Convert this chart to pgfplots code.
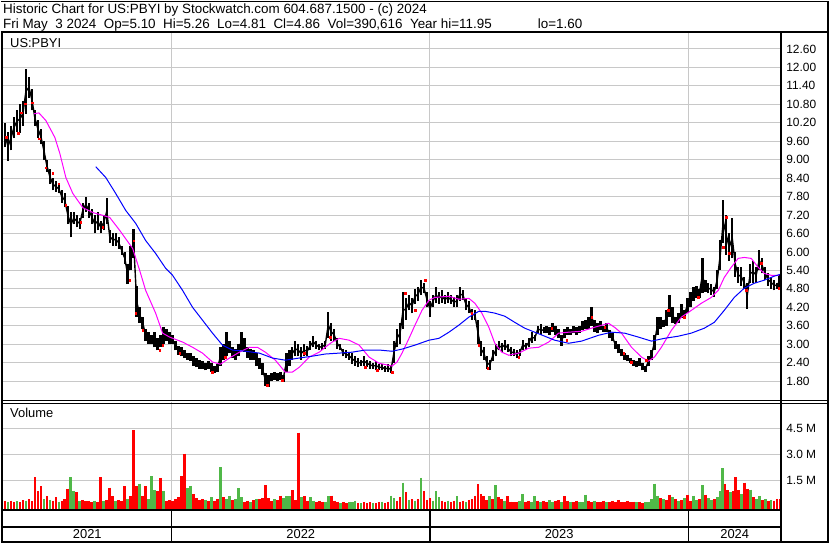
\documentclass[border=0pt]{standalone}
\usepackage{pgfplots}
\pgfplotsset{compat=1.18}
\usepackage{pgfplotstable}
\usepackage{fontspec}
\setmainfont{Liberation Sans}

\definecolor{gridgray}{RGB}{200,200,200}
\definecolor{volred}{RGB}{255,0,0}
\definecolor{volgreen}{RGB}{80,184,72}
\definecolor{mamag}{RGB}{255,0,255}
\definecolor{mablue}{RGB}{0,0,255}

% daily bars, sampled: trading-day position, high, low
\pgfplotstableread{
x h l
2 10.2 9.4
5 9.9 8.97
8 10.1 9.3
11 10.4 9.7
14 10.6 9.9
17 10.8 9.85
20 10.9 10.1
23 11.95 10.5
26 11.7 11.0
29 11.3 10.6
32 10.6 10.1
35 10.3 9.7
38 10.0 9.5
41 9.6 9.0
44 9.0 8.6
47 8.7 8.2
50 8.4 8.0
53 8.3 7.95
56 8.2 7.9
59 8.0 7.6
62 7.9 7.45
65 7.5 6.9
68 7.3 6.47
71 7.3 6.9
74 7.2 6.8
77 7.1 6.75
80 7.6 7.1
83 7.8 7.3
86 7.6 7.1
89 7.4 6.9
92 7.2 6.6
95 7.3 6.7
98 7.0 6.6
101 7.2 6.7
104 7.74 6.9
107 6.7 6.3
110 6.6 6.2
113 6.6 6.2
116 6.5 6.1
119 6.2 5.9
122 6.0 5.6
125 5.6 4.95
128 6.2 5.4
131 6.75 5.8
134 4.9 3.9
137 4.2 3.7
140 3.9 3.5
143 3.5 3.1
146 3.4 3.0
149 3.3 3.0
152 3.4 2.9
155 3.2 2.8
158 3.3 2.9
161 3.55 3.0
164 3.5 3.1
167 3.4 3.0
170 3.3 3.0
173 3.1 2.8
176 2.95 2.65
179 2.9 2.6
182 2.8 2.55
185 2.7 2.5
188 2.7 2.45
191 2.6 2.3
194 2.55 2.25
197 2.5 2.2
200 2.45 2.2
203 2.4 2.15
206 2.45 2.2
209 2.4 2.1
212 2.3 2.05
215 2.35 2.1
218 2.9 2.3
221 3.0 2.5
224 3.4 2.6
227 3.1 2.7
230 2.9 2.55
233 2.85 2.5
236 3.0 2.6
239 3.4 2.8
242 3.2 2.75
245 2.9 2.55
248 2.85 2.5
251 2.8 2.5
254 2.7 2.3
257 2.55 2.2
260 2.4 2.0
263 2.05 1.65
266 2.0 1.6
269 2.06 1.8
272 2.1 1.85
275 2.05 1.8
278 2.1 1.85
281 2.0 1.78
284 2.7 2.1
287 2.8 2.3
290 2.9 2.5
293 3.1 2.6
296 3.0 2.6
299 2.9 2.5
302 3.0 2.6
305 2.95 2.6
308 3.1 2.8
311 3.25 2.9
314 3.1 2.85
317 3.0 2.8
320 3.05 2.8
323 3.1 2.85
326 4.05 3.2
329 3.7 3.1
332 3.5 3.1
335 3.2 2.85
338 3.0 2.8
341 2.85 2.6
344 2.8 2.55
347 2.75 2.5
350 2.7 2.35
353 2.6 2.3
356 2.55 2.25
359 2.5 2.3
362 2.6 2.3
365 2.5 2.25
368 2.45 2.2
371 2.4 2.2
374 2.45 2.15
377 2.35 2.15
380 2.35 2.15
383 2.3 2.1
386 2.35 2.1
389 2.3 2.05
392 3.1 2.4
395 3.5 2.9
398 3.7 3.0
401 4.7 3.5
404 4.5 3.8
407 4.6 4.1
410 4.5 4.0
413 4.8 4.3
416 4.85 4.4
419 5.1 4.6
422 5.0 4.65
425 4.7 4.2
428 4.4 3.9
431 4.6 4.2
434 4.85 4.35
437 4.7 4.3
440 4.75 4.35
443 4.6 4.3
446 4.7 4.35
449 4.6 4.3
452 4.55 4.2
455 4.6 4.2
458 4.85 4.4
461 4.75 4.45
464 4.5 4.1
467 4.4 4.0
470 4.15 3.8
473 4.1 3.8
476 3.8 3.0
479 3.1 2.6
482 2.9 2.5
485 2.6 2.2
488 2.5 2.16
491 2.8 2.45
494 3.0 2.6
497 3.1 2.8
500 3.05 2.75
503 3.15 2.8
506 3.0 2.75
509 2.9 2.6
512 2.85 2.6
515 2.8 2.55
518 2.85 2.6
521 3.15 2.8
524 3.05 2.8
527 3.2 2.9
530 3.4 3.05
533 3.3 3.1
536 3.6 3.35
539 3.65 3.3
542 3.55 3.35
545 3.6 3.35
548 3.55 3.3
551 3.7 3.4
554 3.6 3.3
557 3.5 3.2
560 3.3 2.95
563 3.5 3.2
566 3.55 3.3
569 3.5 3.3
572 3.6 3.35
575 3.55 3.3
578 3.6 3.35
581 3.75 3.45
584 3.8 3.5
587 3.9 3.5
590 4.2 3.6
593 3.8 3.4
596 3.7 3.35
599 3.75 3.45
602 3.6 3.4
605 3.7 3.4
608 3.45 3.2
611 3.35 3.1
614 3.1 2.85
617 3.0 2.7
620 2.85 2.6
623 2.7 2.5
626 2.65 2.45
629 2.55 2.4
632 2.5 2.3
635 2.45 2.25
638 2.55 2.3
641 2.4 2.15
644 2.3 2.09
647 2.6 2.3
650 2.8 2.5
653 3.3 2.8
656 3.9 3.3
659 3.9 3.5
662 3.8 3.55
665 4.1 3.6
668 4.6 3.9
671 4.2 3.7
674 3.9 3.65
677 4.0 3.7
680 4.3 3.85
683 4.1 3.85
686 4.5 4.0
689 4.7 4.2
692 4.85 4.4
695 4.9 4.5
698 4.8 4.5
701 5.8 4.65
704 5.1 4.7
707 5.0 4.65
710 4.95 4.6
713 4.85 4.55
716 5.4 4.8
719 6.4 5.4
722 7.7 6.3
725 7.2 5.9
728 6.6 5.7
731 7.1 5.8
734 6.0 5.2
737 5.5 5.0
740 5.5 4.9
743 5.2 4.8
746 5.0 4.15
749 5.6 5.0
752 5.7 5.0
755 5.5 5.0
758 6.05 5.4
761 5.8 5.3
764 5.5 5.1
767 5.3 4.9
770 5.2 4.8
773 5.1 4.75
776 5.0 4.8
778 5.26 4.81
}\pricetab

% short moving average
\pgfplotstableread{
x m
31 10.49
36 10.52
43 10.27
52 9.72
57 9.20
63 8.42
70 7.90
80 7.44
90 7.28
100 7.19
107 7.12
117 6.70
130 6.11
137 5.40
143 4.75
153 4.01
160 3.36
167 3.23
180 3.07
190 2.90
200 2.71
210 2.42
218 2.35
227 2.55
237 2.74
247 2.90
255 2.90
263 2.74
273 2.48
283 2.09
290 2.09
297 2.25
307 2.58
317 2.74
323 2.90
330 3.07
337 3.19
347 3.13
357 2.97
367 2.58
377 2.38
390 2.29
395 2.42
400 2.71
407 3.19
413 3.62
420 4.10
427 4.43
433 4.52
447 4.56
457 4.46
467 4.49
473 4.33
480 4.01
487 3.55
493 3.03
500 2.74
507 2.64
517 2.71
527 2.87
537 2.90
547 3.07
557 3.36
567 3.39
580 3.42
593 3.55
607 3.68
613 3.55
620 3.36
630 2.90
640 2.58
647 2.45
653 2.58
660 2.90
670 3.45
680 3.88
690 4.10
700 4.33
710 4.52
717 4.75
723 5.17
730 5.50
737 5.79
743 5.82
750 5.79
757 5.50
763 5.30
770 5.24
778 5.24
}\maShort

% long moving average
\pgfplotstableread{
x m
93 8.77
103 8.42
113 7.90
123 7.35
133 6.93
143 6.37
153 5.95
163 5.47
170 5.24
180 4.75
190 4.20
200 3.78
210 3.36
220 2.97
230 2.81
243 2.77
257 2.71
270 2.55
283 2.48
297 2.55
310 2.61
323 2.68
337 2.71
350 2.74
363 2.81
377 2.81
390 2.77
400 2.84
413 2.97
427 3.13
437 3.19
447 3.39
457 3.62
467 3.88
477 4.07
483 4.07
493 4.01
503 3.91
513 3.71
523 3.52
533 3.39
543 3.26
553 3.13
567 3.03
580 3.10
597 3.29
610 3.39
623 3.36
637 3.23
650 3.10
663 3.19
677 3.26
690 3.36
703 3.52
713 3.71
723 4.10
733 4.52
743 4.82
753 4.98
763 5.08
773 5.21
779 5.27
}\maLong

% volume in millions, down days
\pgfplotstableread{
x v
2 .30
8 .30
11 .22
17 .20
20 .33
26 .38
29 .28
32 1.67
35 .88
38 1.13
44 .55
50 .30
53 .50
59 .30
62 .40
65 1.00
74 .80
80 .35
83 .28
86 .30
89 .22
95 .25
98 1.67
104 .35
107 1.07
110 .55
116 .35
119 .30
122 1.13
128 .60
131 4.42
134 1.13
140 .60
143 1.13
155 .85
158 1.63
164 .30
167 .35
170 .30
173 .40
176 .50
179 1.73
182 3.05
191 .70
194 .45
197 .35
200 .40
206 .28
212 .30
215 .40
221 .50
230 .35
242 .25
245 .30
251 .35
257 .38
260 .45
263 1.20
266 .45
269 .30
275 .35
278 .60
290 .92
293 .35
296 4.27
302 .55
305 .30
314 .25
317 .30
320 .20
329 .60
332 .30
335 .25
341 .20
344 .15
356 .18
362 .20
365 .15
368 .22
374 .15
377 .20
383 .18
386 .25
395 .30
398 .50
404 .80
410 .40
416 .40
422 .85
425 .35
428 .45
440 .30
443 .25
449 .20
452 .30
458 .25
461 .30
467 .35
470 .40
473 .60
476 1.26
479 .70
482 .55
485 .35
491 .40
497 .50
500 .40
506 .55
509 .25
512 .20
515 .25
524 .25
527 .30
536 .30
542 .30
545 .20
554 .30
557 .35
563 .55
566 .30
572 .20
575 .30
587 .30
590 .25
596 .20
599 .25
602 .30
608 .25
611 .30
614 .25
617 .35
620 .20
623 .25
626 .30
629 .20
632 .25
638 .25
641 .15
659 .45
665 .35
668 .65
674 .40
680 .35
686 .65
689 .30
698 .40
704 .65
713 .40
723 1.26
726 .90
732 .85
734 1.67
737 .90
743 1.35
746 1.00
752 .50
761 .35
767 .30
773 .30
776 .40
779 .39
}\redvol

% volume in millions, up days
\pgfplotstableread{
x v
5 .25
14 .28
23 .30
41 .40
47 .35
56 .25
68 1.67
71 .88
77 .30
92 .30
101 .30
113 .30
125 .40
137 1.30
146 .40
149 1.73
152 .90
161 .88
185 1.03
188 1.17
203 .35
209 .50
218 2.26
224 .40
227 .55
233 .40
236 1.03
239 .50
248 .20
254 .40
272 .40
281 .45
284 .55
287 .55
299 .50
308 .50
311 .30
323 .25
326 .55
338 .18
347 .25
350 .20
353 .30
359 .15
371 .18
380 .25
389 .60
392 .45
401 1.35
407 .35
413 .30
419 1.63
431 .30
434 .85
437 .50
446 .30
455 .55
464 .20
488 .55
494 1.20
503 .30
518 .30
521 .70
530 .25
533 .55
539 .25
548 .35
551 .25
560 .20
569 .25
578 .25
581 .20
584 .65
593 .30
605 .20
635 .20
644 .20
647 .25
650 .40
653 1.30
656 .60
662 .40
671 .50
677 .30
683 .45
692 .60
695 .35
701 1.20
707 .45
710 .35
716 .50
719 .85
721 2.20
729 .80
740 .70
749 .95
755 .40
758 .55
764 .40
770 .35
}\greenvol

\pgfplotsset{
  panel/.style={
    scale only axis, width=780bp,
    xmin=0, xmax=780,
    axis line style={draw=none},
    major tick length=0pt,
    xtick={169,428,687}, xticklabels={},
    grid=major,
    major grid style={gridgray, line width=1bp},
    ytick pos=right,
    yticklabel style={anchor=west, inner sep=0pt, xshift=5bp,
      font=\fontsize{12}{14}\selectfont},
  }
}

\begin{document}
\begin{tikzpicture}[font=\fontsize{13}{15}\selectfont]
\path (0bp,0bp) rectangle (830bp,-543bp);

% price panel
\begin{axis}[panel, at={(2bp,-400bp)}, anchor=south west,
  height=368bp, ymin=1.184, ymax=13.12,
  ytick={1.8,2.4,3.0,3.6,4.2,4.8,5.4,6.0,6.6,7.2,7.8,8.4,9.0,9.6,10.2,10.8,11.4,12.0,12.6},
  yticklabels={1.80,2.40,3.00,3.60,4.20,4.80,5.40,6.00,6.60,7.20,7.80,8.40,9.00,9.60,10.20,10.80,11.40,12.00,12.60}]
  \addplot[draw=none, mark=none, forget plot,
    error bars/.cd, y dir=plus, y explicit, error mark=none,
    error bar style={draw=black, solid, line width=2.4bp}]
    table[x=x, y=l, y error plus expr=\thisrow{h}-\thisrow{l}] {\pricetab};
  \addplot[black, line width=1.4bp, mark=none]
    table[x=x, y expr={(\thisrow{h}+\thisrow{l})/2}] {\pricetab};
  \addplot[only marks, mark=square*, mark size=0.8bp, color=volred]
    coordinates {(3,9.72) (15,9.85) (18,10.53) (22,10.82) (29,10.85) (36,9.68)
      (43,8.74) (50,8.55) (56,8.22) (63,7.51) (78,6.96) (100,6.8) (127,5.08)
      (131,6.37) (133,4.01) (140,3.45) (157,2.81) (160,2.97) (177,2.71)
      (210,2.09) (223,2.58) (265,1.67) (280,1.83) (302,2.71) (328,3.23)
      (363,2.25) (375,2.16) (390,2.09) (403,4.65) (413,4.10) (423,5.08)
      (470,4.01) (477,2.97) (486,2.22) (517,2.58) (550,3.52) (565,3.13)
      (590,3.88) (603,3.55) (622,2.71) (630,2.42) (645,2.48) (667,4.10)
      (683,3.88) (697,4.52) (722,6.15) (725,7.12) (728,5.95) (745,4.75)
      (760,5.63) (778,4.82)};
  \addplot[mamag, line width=1bp, mark=none] table[x=x, y=m] {\maShort};
  \addplot[mablue, line width=1bp, mark=none] table[x=x, y=m] {\maLong};
\end{axis}

% volume panel
\begin{axis}[panel, at={(2bp,-509bp)}, anchor=south west,
  height=107bp, ymin=-0.17, ymax=6.05,
  ytick={1.5,3,4.5}, yticklabels={1.5 M,3.0 M,4.5 M}]
  \addplot[draw=none, mark=none,
    error bars/.cd, y dir=minus, y explicit, error mark=none,
    error bar style={draw=volred, solid, line width=2.7bp}]
    table[x=x, y=v, y error minus expr=\thisrow{v}+0.3] {\redvol};
  \addplot[draw=none, mark=none,
    error bars/.cd, y dir=minus, y explicit, error mark=none,
    error bar style={draw=volgreen, solid, line width=2.7bp}]
    table[x=x, y=v, y error minus expr=\thisrow{v}+0.3] {\greenvol};
\end{axis}

% frame, header and captions
\begin{scope}[x=1bp, y=-1bp]
  \draw[line width=1.5bp] (0,0.75) -- (830,0.75);
  \draw[line width=2bp] (829,0) -- (829,543);
  \draw[line width=2bp] (0,31.5) -- (830,31.5);
  \draw[line width=2bp] (1,31.5) -- (1,543);
  \draw[line width=2bp] (0,542) -- (830,542);
  \draw[line width=2bp] (782,31.5) -- (782,543);
  \draw[line width=1bp] (0,400.5) -- (830,400.5);
  \draw[line width=1bp] (0,403) -- (830,403);
  \draw[line width=2bp] (0,510) -- (782,510);
  \draw[line width=2bp] (0,527) -- (782,527);
  \foreach \xx in {171,430,689} \draw[line width=1.5bp] (\xx,510) -- (\xx,542);

  \begin{scope}[font=\fontsize{13.5}{16}\selectfont]
  \node[anchor=base west, inner sep=0pt] at (2,12.5)
    {Historic Chart for US:PBYI by Stockwatch.com 604.687.1500 - (c) 2024};
  \node[anchor=base west, inner sep=0pt] at (2,28)
    {Fri May\ \ 3 2024\ \ Op=5.10\ \ Hi=5.26\ \ Lo=4.81\ \ Cl=4.86\ \ Vol=390,616\ \ Year hi=11.95};
  \node[anchor=base west, inner sep=0pt] at (538,28) {lo=1.60};
  \end{scope}
  \node[anchor=base west, inner sep=0pt] at (9,46.5) {US:PBYI};
  \node[anchor=base west, inner sep=0pt] at (9,418) {Volume};
  \node[anchor=base, inner sep=0pt] at (86.5,539) {2021};
  \node[anchor=base, inner sep=0pt] at (300.5,539) {2022};
  \node[anchor=base, inner sep=0pt] at (559.5,539) {2023};
  \node[anchor=base, inner sep=0pt] at (735.5,539) {2024};
\end{scope}
\end{tikzpicture}
\end{document}
